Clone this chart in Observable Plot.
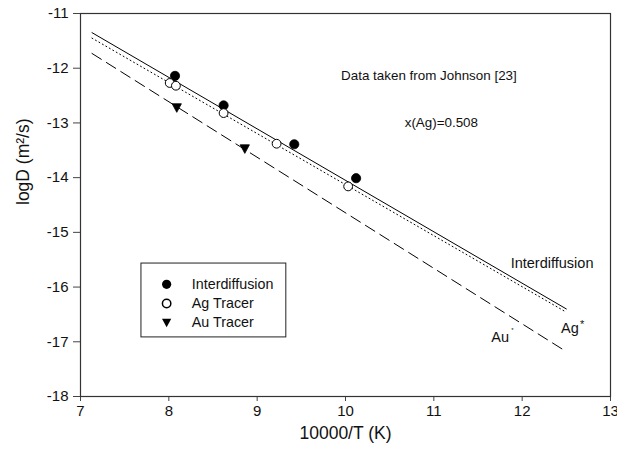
<!DOCTYPE html>
<html>
<head>
<meta charset="utf-8">
<script src="https://cdn.jsdelivr.net/npm/d3@7"></script>
<script src="https://cdn.jsdelivr.net/npm/@observablehq/plot@0.6"></script>
<style>
  html, body { margin: 0; padding: 0; background: #fff; }
  #chart { width: 617px; height: 462px; }
</style>
</head>
<body>
<div id="chart"></div>
<script>
// ---- data ----
const interX = [8.07, 8.62, 9.42, 10.12];
const interY = [-12.14, -12.68, -13.39, -14.01];
const agX = [8.01, 8.08, 8.62, 9.22, 10.03];
const agY = [-12.27, -12.32, -12.82, -13.38, -14.16];
const auX = [8.09, 8.86];
const auY = [-12.71, -13.46];

const fitX = [7.13, 12.5];
const interFitY = [-11.35, -16.40];
const agFitY = [-11.45, -16.46];
const auFitY = [-11.73, -17.18];

const xTicks = [7, 8, 9, 10, 11, 12, 13];
const yTicks = [-18, -17, -16, -15, -14, -13, -12, -11];

const legendLabels = ["Interdiffusion", "Ag Tracer", "Au Tracer"];

// ---- helpers ----
const pts = (xs, ys) => xs.map((x, i) => ({x, y: ys[i]}));
const triDown = {
  draw(ctx, size) {
    const r = Math.sqrt(size / Math.PI);
    const w = r * 1.05;
    ctx.moveTo(-w, -r * 0.75);
    ctx.lineTo(w, -r * 0.75);
    ctx.lineTo(0, r * 1.2);
    ctx.closePath();
  }
};

// legend layout (data-space anchor of the box)
const lg = {x1: 7.69, x2: 9.33, y1: -15.57, y2: -16.92, mx: 7.975, tx: 8.26, rows: [-15.95, -16.30, -16.64]};
const legendRows = legendLabels.map((t, i) => ({t, y: lg.rows[i], i}));

const font = "'Liberation Sans', Arial, Helvetica, sans-serif";

const chart = Plot.plot({
  width: 617,
  height: 462,
  marginLeft: 80,
  marginTop: 13,
  marginRight: 7,
  marginBottom: 66,
  style: {fontFamily: font, fontSize: "15px", color: "#111", background: "#fff"},
  x: {domain: [7, 13]},
  y: {domain: [-18, -11]},
  marks: [
    Plot.axisX({ticks: xTicks, tickSize: 5, tickPadding: 4, fontSize: 15, label: null, tickFormat: d => String(d), stroke: "#444"}),
    Plot.axisY({ticks: yTicks, tickSize: 7, tickPadding: 5, fontSize: 15, label: null, tickFormat: d => String(d), stroke: "#444"}),
    Plot.frame({stroke: "#333", strokeWidth: 1.2}),
    // fitted lines
    Plot.line(pts(fitX, interFitY), {x: "x", y: "y", stroke: "#000", strokeWidth: 1}),
    Plot.line(pts(fitX, agFitY), {x: "x", y: "y", stroke: "#000", strokeWidth: 1, strokeDasharray: "1,3"}),
    Plot.line(pts(fitX, auFitY), {x: "x", y: "y", stroke: "#000", strokeWidth: 1, strokeDasharray: "11,6"}),
    // data points
    Plot.dot(pts(interX, interY), {x: "x", y: "y", r: 4.6, fill: "#000", stroke: "#000", strokeWidth: 0.8}),
    Plot.dot(pts(agX, agY), {x: "x", y: "y", r: 4.4, fill: "#fff", stroke: "#000", strokeWidth: 1}),
    Plot.dot(pts(auX, auY), {x: "x", y: "y", r: 4.4, symbol: triDown, fill: "#000", stroke: "#000", strokeWidth: 0.8}),
    // annotations
    Plot.text(["Data taken from Johnson [23]"], {x: 9.95, y: -12.13, text: d => d, textAnchor: "start", fontSize: 13.4, fill: "#111"}),
    Plot.text(["x(Ag)=0.508"], {x: 10.67, y: -13.0, text: d => d, textAnchor: "start", fontSize: 13.4, fill: "#111"}),
    Plot.text(["Interdiffusion"], {x: 11.87, y: -15.575, text: d => d, textAnchor: "start", fontSize: 14.5, fill: "#111"}),
    Plot.text(["Ag"], {x: 12.44, y: -16.75, text: d => d, textAnchor: "start", fontSize: 14.5, fill: "#111"}),
    Plot.text(["*"], {x: 12.44, y: -16.75, text: d => d, textAnchor: "start", dx: 19, dy: -4, fontSize: 11, fill: "#111"}),
    Plot.text(["Au"], {x: 11.65, y: -16.92, text: d => d, textAnchor: "start", fontSize: 14.5, fill: "#111"}),
    Plot.text(["*"], {x: 11.65, y: -16.92, text: d => d, textAnchor: "start", dx: 20, dy: -7, fontSize: 6, fill: "#111"}),
    // legend
    Plot.rect([lg], {x1: "x1", x2: "x2", y1: "y1", y2: "y2", fill: "#fff", stroke: "#222", strokeWidth: 1}),
    Plot.dot(legendRows.filter(d => d.i === 0), {x: () => lg.mx, y: "y", r: 4.6, fill: "#000"}),
    Plot.dot(legendRows.filter(d => d.i === 1), {x: () => lg.mx, y: "y", r: 4.2, fill: "#fff", stroke: "#000"}),
    Plot.dot(legendRows.filter(d => d.i === 2), {x: () => lg.mx, y: "y", r: 4.4, symbol: triDown, fill: "#000"}),
    Plot.text(legendRows, {x: () => lg.tx, y: "y", text: "t", textAnchor: "start", fontSize: 14.3, fill: "#111"}),
    // axis titles
    Plot.text(["10000/T (K)"], {frameAnchor: "bottom", dy: 42, text: d => d, fontSize: 17.5, fill: "#111"}),
    Plot.text(["logD (m²/s)"], {frameAnchor: "left", dx: -57, rotate: -90, text: d => d, fontSize: 17.5, fill: "#111"})
  ]
});
document.getElementById("chart").appendChild(chart);
</script>
</body>
</html>
